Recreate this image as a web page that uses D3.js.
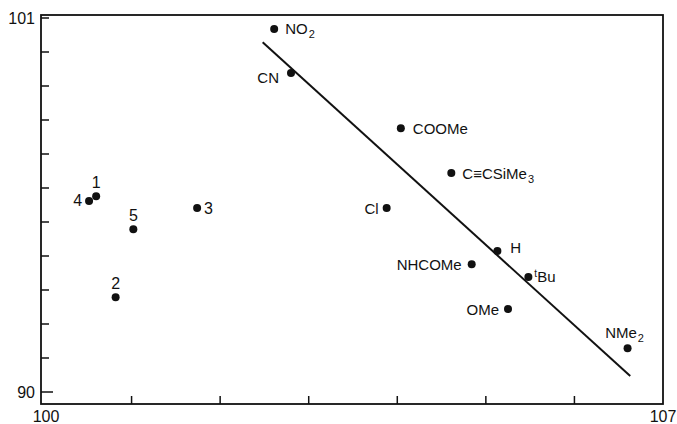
<!DOCTYPE html>
<html><head><meta charset="utf-8">
<script src="https://cdn.jsdelivr.net/npm/d3@7"></script>
<style>body{margin:0;background:#fff}svg{display:block}text{font-family:"Liberation Sans",Arial,sans-serif;fill:#111}</style>
</head><body>
<script>
// Data
const labels = ["NO₂","CN","COOMe","C≡CSiMe₃","Cl","H","NHCOMe","ᵗBu","OMe","NMe₂","1","4","5","3","2"];
const xValues = [102.61,102.80,104.04,104.61,103.88,105.13,104.84,105.48,105.25,106.60,100.60,100.52,101.02,101.74,100.82];
const yValues = [100.68,99.38,97.76,96.44,95.41,94.15,93.76,93.38,92.44,91.29,95.76,95.62,94.79,95.41,92.79];
const fitX = [102.48,106.63];
const fitY = [100.29,90.47];
const xTicks = [100,101,102,103,104,105,106,107];
const yTicks = [90,91,92,93,94,95,96,97,98,99,100,101];
const xTickLabels = ["100","107"];
const yTickLabels = ["90","101"];

// label placement (layout)
const place = {
 "NO₂":{dx:11,dy:0,a:"start"}, "CN":{dx:-12,dy:4,a:"end"}, "COOMe":{dx:12,dy:0,a:"start"},
 "C≡CSiMe₃":{dx:11,dy:0,a:"start"}, "Cl":{dx:-8,dy:0,a:"end"}, "H":{dx:13,dy:-3,a:"start"},
 "NHCOMe":{dx:-10,dy:0,a:"end"}, "ᵗBu":{dx:6,dy:-1,a:"start"}, "OMe":{dx:-9,dy:0,a:"end"},
 "NMe₂":{dx:-3,dy:-16,a:"middle"}, "1":{dx:0,dy:-14,a:"middle"}, "4":{dx:-7,dy:0,a:"end"},
 "5":{dx:0,dy:-14,a:"middle"}, "3":{dx:7,dy:0,a:"start"}, "2":{dx:0,dy:-14,a:"middle"}
};

const W=677,H=424;
const svg=d3.select("body").append("svg").attr("width",W).attr("height",H);
const x=d3.scaleLinear().domain([100,107]).range([43,663]);
const y=d3.scaleLinear().domain([90,101]).range([392,18]);
const L=41,R=x(107),T=15,B=404;

// frame
svg.append("rect").attr("x",L).attr("y",T).attr("width",R-L).attr("height",B-T)
 .attr("fill","none").attr("stroke","#111").attr("stroke-width",1.8);

// ticks
svg.selectAll(".xt").data(xTicks.slice(1,-1)).enter().append("line")
 .attr("x1",d=>x(d)).attr("x2",d=>x(d)).attr("y1",B).attr("y2",B-8)
 .attr("stroke","#111").attr("stroke-width",1.5);
svg.selectAll(".yt").data(yTicks).enter().append("line")
 .attr("x1",L).attr("x2",(d,i)=>L+(i===0?12:8)).attr("y1",d=>y(d)).attr("y2",d=>y(d))
 .attr("stroke","#111").attr("stroke-width",1.5);

// tick labels
svg.selectAll(".xl").data(xTickLabels).enter().append("text")
 .attr("x",d=>x(+d)+(d==="100"?3:0)).attr("y",422).attr("text-anchor","middle")
 .attr("font-size",16).text(d=>d);
svg.selectAll(".yl").data(yTickLabels).enter().append("text")
 .attr("x",35).attr("y",d=>y(+d)+6).attr("text-anchor","end")
 .attr("font-size",16).text(d=>d);

// fit line
svg.append("line").attr("x1",x(fitX[0])).attr("y1",y(fitY[0])).attr("x2",x(fitX[1])).attr("y2",y(fitY[1]))
 .attr("stroke","#111").attr("stroke-width",2);

// points
const pts=labels.map((l,i)=>({l,x:xValues[i],y:yValues[i]}));
svg.selectAll(".p").data(pts).enter().append("circle")
 .attr("cx",d=>x(d.x)).attr("cy",d=>y(d.y)).attr("r",4).attr("fill","#111");

const sub={"₂":"2","₃":"3"};
function parts(s){
  const out=[];
  for(const ch of s){
    if(sub[ch]) out.push({t:sub[ch],k:"sub"});
    else if(ch==="ᵗ") out.push({t:"t",k:"sup"});
    else if(out.length && out[out.length-1].k==="n") out[out.length-1].t+=ch;
    else out.push({t:ch,k:"n"});
  }
  return out;
}
pts.forEach(d=>{
  const p=place[d.l];
  const t=svg.append("text")
   .attr("x",x(d.x)+p.dx).attr("y",y(d.y)+p.dy+5.5)
   .attr("text-anchor",p.a)
   .attr("font-size",/^\d$/.test(d.l)?16:15);
  let shift=0;
  parts(d.l).forEach(q=>{
    const ts=t.append("tspan").text(q.t);
    let target = q.k==="sub"?4:(q.k==="sup"?-5:0);
    ts.attr("dy",target-shift);
    if(q.k==="sub"){ts.attr("font-size",11).attr("dx",1);}
    if(q.k==="sup"){ts.attr("font-size",10).attr("dx",0);}
    shift=target;
  });
});
</script>
</body></html>
